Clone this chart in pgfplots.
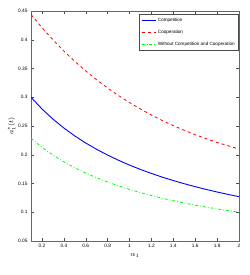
\documentclass[border=0pt]{standalone}
\usepackage{pgfplots}
\pgfplotsset{compat=1.18}
\usepackage{fontspec}
\setmainfont{Liberation Sans}
\begin{document}
\begin{tikzpicture}
\pgfplotstableread{
x blue red green
0.1 0.3000 0.4440 0.2286
0.2 0.2797 0.4211 0.2130
0.3 0.2621 0.4000 0.1995
0.4 0.2465 0.3804 0.1877
0.5 0.2327 0.3624 0.1773
0.6 0.2204 0.3457 0.1681
0.7 0.2094 0.3303 0.1599
0.8 0.1994 0.3160 0.1525
0.9 0.1903 0.3029 0.1458
1.0 0.1820 0.2907 0.1397
1.1 0.1744 0.2795 0.1342
1.2 0.1675 0.2691 0.1291
1.3 0.1610 0.2595 0.1244
1.4 0.1551 0.2506 0.1201
1.5 0.1496 0.2425 0.1161
1.6 0.1445 0.2349 0.1124
1.7 0.1397 0.2279 0.1090
1.8 0.1352 0.2215 0.1058
1.9 0.1310 0.2155 0.1028
2.0 0.1271 0.2100 0.1000
}\datatable
\begin{axis}[
  scale only axis, width=208pt, height=230pt,
  xmin=0.1, xmax=2, ymin=0.05, ymax=0.45,
  xtick={0.2,0.4,0.6,0.8,1,1.2,1.4,1.6,1.8,2},
  ytick={0.05,0.1,0.15,0.2,0.25,0.3,0.35,0.4,0.45},
  xticklabels={0.2,0.4,0.6,0.8,1,1.2,1.4,1.6,1.8,2},
  yticklabels={0.05,0.1,0.15,0.2,0.25,0.3,0.35,0.4,0.45},
  tick label style={font=\fontsize{4.8}{5}\selectfont},
  major tick length=3pt,
  tick style={black!70, thin},
  axis line style={black!60, thin},
  xlabel={$\alpha_1$},
  ylabel={$a_1^{*}(t)$},
  label style={font=\fontsize{7}{8}\selectfont},
  xlabel style={yshift=1pt},
  ylabel style={yshift=-4pt},
  legend style={at={(0.997,0.987)}, anchor=north east, font=\fontsize{4.6}{5}\selectfont,
    draw=black!70, inner sep=1.5pt, row sep=3.5pt, cells={anchor=west}},
  legend cell align=left,
  legend image code/.code={\draw[#1, line width=0.9pt] (0pt,0pt) -- (14pt,0pt);},
]
\addplot[blue, line width=0.9pt] table[x=x,y=blue] {\datatable};
\addlegendentry{Competition}
\addplot[red, line width=0.8pt, dashed] table[x=x,y=red] {\datatable};
\addlegendentry{Cooperation}
\addplot[green, line width=0.8pt, dash dot] table[x=x,y=green] {\datatable};
\addlegendentry{Without Competition and Cooperation}
\end{axis}
\pgfresetboundingbox
\path (-31pt,-34pt) rectangle (218pt,241pt);
\end{tikzpicture}
\end{document}
